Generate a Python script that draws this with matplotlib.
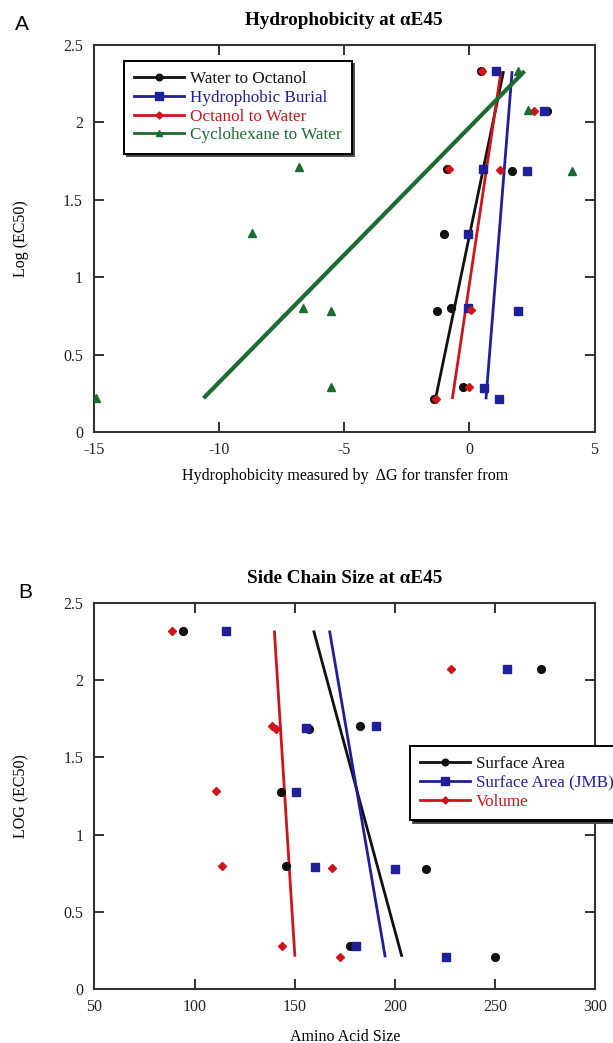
import numpy as np
import matplotlib
matplotlib.use("Agg")
import matplotlib.pyplot as plt

plt.rcParams["font.family"] = ["Liberation Serif", "DejaVu Serif"]
plt.rcParams["axes.unicode_minus"] = False

# ---- Panel A: hydrophobicity scales (x = dG of transfer, y = log EC50) ----
wo_x = [0.45, 3.10, -0.90, 1.72, -1.00, -0.75, -1.29, -0.25, -1.40]
wo_y = [2.33, 2.075, 1.70, 1.685, 1.28, 0.80, 0.785, 0.29, 0.215]
hb_x = [1.06, 2.98, 0.55, 2.32, -0.05, -0.05, 1.96, 0.58, 1.17]
hb_y = [2.33, 2.075, 1.70, 1.685, 1.28, 0.80, 0.78, 0.285, 0.213]
ow_x = [0.49, 2.58, -0.81, 1.22, 0.07, 0.00, -1.34]
ow_y = [2.33, 2.075, 1.70, 1.69, 0.79, 0.29, 0.215]
cw_x = [1.95, 2.35, -6.81, 4.12, -8.70, -6.64, -5.51, -5.51, -14.93]
cw_y = [2.33, 2.08, 1.71, 1.685, 1.285, 0.80, 0.78, 0.29, 0.22]

a_xticks = [-15, -10, -5, 0, 5]
a_xticklabels = ["-15", "-10", "-5", "0", "5"]

# ---- Panel B: side chain size (x = amino acid size, y = log EC50) ----
sa_x = [94, 272.8, 182.8, 157, 143, 145.8, 215.7, 177.8, 250]
sa_y = [2.32, 2.072, 1.703, 1.685, 1.278, 0.80, 0.778, 0.282, 0.21]
jmb_x = [115.5, 255.8, 190.8, 155.8, 150.5, 160.3, 200.3, 180.5, 225.5]
jmb_y = [2.32, 2.072, 1.703, 1.69, 1.278, 0.793, 0.778, 0.282, 0.207]
vol_x = [88.7, 228, 138.8, 140.5, 110.8, 113.8, 168.7, 143.8, 172.8]
vol_y = [2.32, 2.072, 1.703, 1.684, 1.283, 0.80, 0.783, 0.282, 0.211]

b_xticks = [50, 100, 150, 200, 250, 300]
b_xticklabels = ["50", "100", "150", "200", "250", "300"]

yticks = [0, 0.5, 1, 1.5, 2, 2.5]
yticklabels = ["0", "0.5", "1", "1.5", "2", "2.5"]

BLACK = "#111111"
BLUE = "#1f1f9a"
RED = "#d0141c"
GREEN = "#1c6b32"
SPINE = "#333333"

W, H = 613, 1043
fig = plt.figure(figsize=(W / 100, H / 100), dpi=100)


def px_axes(left, top, right, bottom):
    return fig.add_axes([left / W, 1 - bottom / H, (right - left) / W, (bottom - top) / H])


def fit_line(ax, xs, ys, color, lw):
    # least-squares line of x on log(EC50), drawn over the measured range
    xs = np.asarray(xs, float)
    ys = np.asarray(ys, float)
    slope, icpt = np.polyfit(ys, xs, 1)
    yy = np.array([ys.min(), ys.max()])
    ax.plot(icpt + slope * yy, yy, color=color, lw=lw, solid_capstyle="butt", zorder=2)


def style_axes(ax):
    for s in ax.spines.values():
        s.set_color(SPINE)
        s.set_linewidth(1.5)
    ax.tick_params(direction="in", top=True, right=True, length=7, width=1.4,
                   color=SPINE, labelsize=11.5, labelcolor="#222222")
    ax.tick_params(axis="x", pad=7)
    ax.tick_params(axis="y", pad=8)
    ax.set_yticks(yticks)
    ax.set_yticklabels(yticklabels)
    ax.set_ylim(0, 2.5)


def series(ax, xs, ys, color, marker, ms, label):
    return ax.plot(xs, ys, color=color, marker=marker, ms=ms, lw=2.0, ls="none",
                   label=label, zorder=3)[0]


def legend(ax, handles, labels, anchor):
    proxies = []
    for h in handles:
        p, = ax.plot([], [], color=h.get_color(), marker=h.get_marker(),
                     ms=h.get_markersize() * 0.85, lw=2.0)
        proxies.append(p)
    leg = ax.legend(proxies, labels, loc="upper left", bbox_to_anchor=anchor,
                    borderaxespad=0, fancybox=False, frameon=True,
                    edgecolor="black", fontsize=12.3, handlelength=2.9,
                    handletextpad=0.35, labelspacing=0.16, borderpad=0.6,
                    labelcolor="linecolor",
                    shadow={"facecolor": "black", "alpha": 1.0})
    leg.get_frame().set_linewidth(1.4)
    return leg


# ---------------- Panel A ----------------
axA = px_axes(94, 44.8, 594.5, 432.3)
style_axes(axA)
axA.set_xlim(-15, 5)
axA.set_xticks(a_xticks)
axA.set_xticklabels(a_xticklabels)

fit_line(axA, wo_x, wo_y, BLACK, 2.0)
fit_line(axA, hb_x, hb_y, BLUE, 2.0)
fit_line(axA, ow_x, ow_y, RED, 2.0)
fit_line(axA, cw_x, cw_y, GREEN, 3.0)

h1 = series(axA, wo_x, wo_y, BLACK, "o", 5.6, "Water to Octanol")
h2 = series(axA, hb_x, hb_y, BLUE, "s", 6.0, "Hydrophobic Burial")
h3 = series(axA, ow_x, ow_y, RED, "D", 4.2, "Octanol to Water")
h4 = series(axA, cw_x, cw_y, GREEN, "^", 5.6, "Cyclohexane to Water")

legend(axA, [h1, h2, h3, h4],
       ["Water to Octanol", "Hydrophobic Burial", "Octanol to Water", "Cyclohexane to Water"],
       ((124 - 94) / 500.5, (432.3 - 61) / 387.5))

axA.set_title("Hydrophobicity at \u03b1E45", fontsize=13.8, fontweight="bold", pad=14.0)
fig.text(345 / W, 1 - 476 / H, "Hydrophobicity measured by  \u0394G for transfer from",
         ha="center", va="center", fontsize=11.5)
fig.text(21 / W, 1 - 238.5 / H, "Log (EC50)", rotation=90, ha="center", va="center",
         fontsize=11.5)
fig.text(22 / W, 1 - 25 / H, "A", family=["Liberation Sans", "DejaVu Sans"],
         fontsize=15, ha="center", va="center")

# ---------------- Panel B ----------------
axB = px_axes(94.5, 602.7, 595, 989.3)
style_axes(axB)
axB.set_xlim(50, 300)
axB.set_xticks(b_xticks)
axB.set_xticklabels(b_xticklabels)

fit_line(axB, vol_x, vol_y, RED, 2.0)
fit_line(axB, sa_x, sa_y, BLACK, 2.0)
fit_line(axB, jmb_x, jmb_y, BLUE, 2.0)

g1 = series(axB, sa_x, sa_y, BLACK, "o", 5.6, "Surface Area")
g2 = series(axB, jmb_x, jmb_y, BLUE, "s", 6.0, "Surface Area (JMB)")
g3 = series(axB, vol_x, vol_y, RED, "D", 4.2, "Volume")

legend(axB, [g1, g2, g3], ["Surface Area", "Surface Area (JMB)", "Volume"],
       ((410 - 94.5) / 500.5, (989.3 - 746) / 386.6))

axB.set_title("Side Chain Size at \u03b1E45", fontsize=13.8, fontweight="bold", pad=14.0)
fig.text(345 / W, 1 - 1037 / H, "Amino Acid Size", ha="center", va="center", fontsize=11.5)
fig.text(21 / W, 1 - 796 / H, "LOG (EC50)", rotation=90, ha="center", va="center",
         fontsize=11.5)
fig.text(25 / W, 1 - 592 / H, "B", family=["Liberation Sans", "DejaVu Sans"],
         fontsize=15, ha="center", va="center")

fig.savefig("out.png", dpi=100)
